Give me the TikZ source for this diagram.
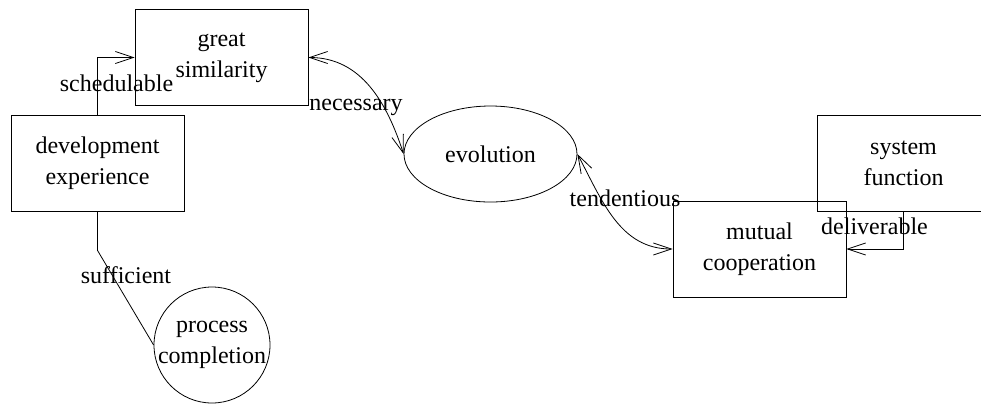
\documentclass[tikz,border=0pt]{standalone}
\usepackage{fontspec}
\setmainfont{Liberation Serif}
\usepackage{tikz}
\usetikzlibrary{
  shapes.geometric,
  arrows.meta,
  positioning
}

\begin{document}
\begin{tikzpicture}[
  x=0.5pt, y=0.5pt,
  every node/.style={font=\fontsize{12}{15.5}\selectfont},
  box/.style={
    rectangle, draw, align=center,
    minimum width=86.5pt, minimum height=48pt, inner sep=0pt
  },
  oval/.style={
    ellipse, draw, align=center,
    minimum width=86.5pt, minimum height=48pt, inner sep=0pt
  },
  ring/.style={
    circle, draw, align=center,
    minimum size=58pt, inner sep=-2pt
  },
  arr/.style={-{Straight Barb[length=9pt,width=6pt]}, thin},
  biarr/.style={{Straight Barb[length=9pt,width=6pt]}-{Straight Barb[length=9pt,width=6pt]}, thin},
  edgelbl/.style={anchor=base, inner sep=0pt}
]
  \clip (0,0) rectangle (981,-404);

  % Concepts
  \node[box] (great) at (221.5,-57.5) {great\\similarity};
  \node[box] (dev) at (97.5,-163) {development\\experience};
  \node[oval] (evo) at (490.5,-154) {evolution};
  \node[box] (sys) at (903.5,-163) {system\\function};
  \node[box] (mut) at (759.5,-249) {mutual\\cooperation};
  \node[ring] (proc) at (212,-345) {process\\completion};

  % Relations
  \draw[arr] (dev.north) |- (great.west);
  \draw[biarr] (great.east) to[out=0, in=108] (evo.west);
  \draw[biarr] (evo.east) to[out=-62, in=180] (mut.west);
  \draw[arr] (sys.south) |- (mut.east);
  \draw[thin] (dev.south) -- ++(0,-39) -- (proc.west);

  % Relation labels
  \node[edgelbl] (lsched) at (116.5,-91) {schedulable};
  \node[edgelbl] (lnec) at (356,-110) {necessary};
  \node[edgelbl] (ltend) at (625,-206) {tendentious};
  \node[edgelbl] (ldel) at (874.5,-234) {deliverable};
  \node[edgelbl] (lsuff) at (126,-283) {sufficient};
\end{tikzpicture}
\end{document}
